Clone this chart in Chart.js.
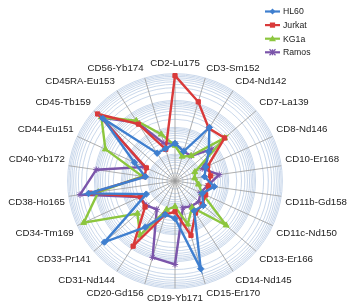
<!DOCTYPE html>
<html>
<head>
<meta charset="utf-8">
<script src="https://cdn.jsdelivr.net/npm/chart.js@4.4.0/dist/chart.umd.min.js"></script>
<style>
  body { margin: 0; background: #fff; }
  #wrap { width: 352px; height: 306px; position: relative; }
</style>
</head>
<body>
<div id="wrap"><canvas id="radar"></canvas></div>
<script>
// ====== Datos ======
const categorias = ['CD2-Lu175', 'CD3-Sm152', 'CD4-Nd142', 'CD7-La139', 'CD8-Nd146', 'CD10-Er168',
  'CD11b-Gd158', 'CD11c-Nd150', 'CD13-Er166', 'CD14-Nd145', 'CD15-Er170', 'CD19-Yb171',
  'CD20-Gd156', 'CD31-Nd144', 'CD33-Pr141', 'CD34-Tm169', 'CD38-Ho165', 'CD40-Yb172',
  'CD44-Eu151', 'CD45-Tb159', 'CD45RA-Eu153', 'CD56-Yb174'];

const hl60   = [25, 14, 235, 46, 18, 13, 30, 13, 25, 21, 2550, 25, 20, 110, 3000, 15, 1800, 13, 46, 3600, 17, 18];
const jurkat = [8400, 1190, 215, 280, 22, 22, 18, 18, 22, 26, 130, 14, 20, 770, 30, 26, 1530, 14, 15, 6500, 330, 17];
const kg1a   = [21, 9, 13, 280, 6.5, 5.5, 7.7, 13, 330, 15, 48, 9, 13, 255, 71, 5500, 770, 17, 710, 4270, 465, 65];
const ramos  = [25, 14, 13, 65, 13, 46, 17, 11, 15, 13, 11, 1290, 920, 18, 25, 28, 3750, 920, 18, 3900, 390, 29];

// rejilla logarítmica 1 .. 10000
const ticksLog = [1, 2, 3, 4, 5, 6, 7, 8, 9,
  10, 20, 30, 40, 50, 60, 70, 80, 90,
  100, 200, 300, 400, 500, 600, 700, 800, 900,
  1000, 2000, 3000, 4000, 5000, 6000, 7000, 8000, 9000, 10000];

const log = arr => arr.map(v => Math.log10(v));

// ====== Leyenda dibujada a mano ======
const leyenda = {
  id: 'leyenda',
  afterDraw(chart) {
    const c = chart.ctx;
    chart.data.datasets.forEach((ds, i) => {
      const y = 11.5 + i * 13.6;
      c.save();
      c.strokeStyle = ds.borderColor;
      c.lineWidth = 2.2;
      c.beginPath();
      c.moveTo(265, y);
      c.lineTo(280, y);
      c.stroke();
      c.fillStyle = ds.borderColor;
      c.lineWidth = 1.3;
      const x = 272.5, r = 3;
      c.beginPath();
      if (ds.pointStyle === 'rectRot') {
        c.moveTo(x, y - r); c.lineTo(x + r, y); c.lineTo(x, y + r); c.lineTo(x - r, y); c.closePath(); c.fill();
      } else if (ds.pointStyle === 'rect') {
        c.fillRect(x - 2.6, y - 2.6, 5.2, 5.2);
      } else if (ds.pointStyle === 'triangle') {
        c.moveTo(x, y - r - 0.5); c.lineTo(x + r + 0.5, y + r - 0.5); c.lineTo(x - r - 0.5, y + r - 0.5); c.closePath(); c.fill();
      } else {
        c.moveTo(x - r, y - r); c.lineTo(x + r, y + r);
        c.moveTo(x + r, y - r); c.lineTo(x - r, y + r);
        c.moveTo(x, y - r); c.lineTo(x, y + r);
        c.stroke();
      }
      c.fillStyle = '#222';
      c.font = '8.7px "Liberation Sans", Arial, sans-serif';
      c.textBaseline = 'middle';
      c.fillText(ds.label, 283, y + 0.5);
      c.restore();
    });
  }
};

const ctx = document.getElementById('radar').getContext('2d');
const grafico = new Chart(ctx, {
  type: 'radar',
  data: {
    labels: categorias,
    datasets: [
      { label: 'HL60', data: log(hl60), borderColor: '#3f7fcf', backgroundColor: '#3f7fcf', pointStyle: 'rectRot', pointRadius: 3.2 },
      { label: 'Jurkat', data: log(jurkat), borderColor: '#d93a3a', backgroundColor: '#d93a3a', pointStyle: 'rect', pointRadius: 3 },
      { label: 'KG1a', data: log(kg1a), borderColor: '#8cc63e', backgroundColor: '#8cc63e', pointStyle: 'triangle', pointRadius: 3.4 },
      { label: 'Ramos', data: log(ramos), borderColor: '#7b55aa', backgroundColor: '#7b55aa', pointStyle: 'star', pointRadius: 3.2, pointBorderWidth: 1 }
    ]
  },
  options: {
    responsive: true,
    maintainAspectRatio: false,
    animation: false,
    layout: { padding: { top: 58, bottom: 2, left: 5, right: 0 } },
    elements: {
      line: { borderWidth: 2.4, fill: false, tension: 0 },
      point: { borderWidth: 1 }
    },
    plugins: {
      legend: { display: false },
      tooltip: { enabled: false }
    },
    scales: {
      r: {
        min: 0,
        max: 4,
        afterBuildTicks: scale => {
          scale.ticks = ticksLog.map(v => ({ value: Math.log10(v) }));
        },
        ticks: { display: false },
        grid: { circular: true, color: '#c4d4e9', lineWidth: 0.9 },
        angleLines: { color: '#9a9a9a', lineWidth: 0.8 },
        pointLabels: {
          color: '#222',
          padding: 4,
          font: { family: '"Liberation Sans", Arial, sans-serif', size: 9.7 }
        }
      }
    }
  },
  plugins: [leyenda]
});
</script>
</body>
</html>
